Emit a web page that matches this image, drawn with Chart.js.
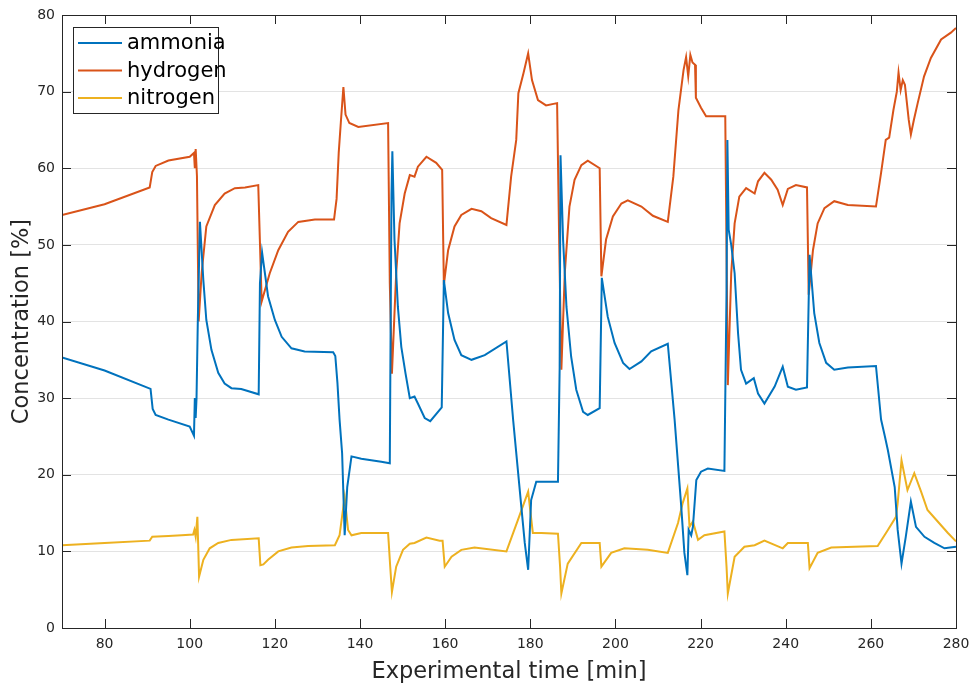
<!DOCTYPE html>
<html>
<head>
<meta charset="utf-8">
<script src="https://cdn.jsdelivr.net/npm/chart.js@4.4.1/dist/chart.umd.min.js"></script>
<style>
  html, body { margin: 0; padding: 0; background: #fff; }
  #wrap { width: 970px; height: 686px; }
</style>
</head>
<body>
<div id="wrap"><canvas id="conc"></canvas></div>
<script>
// tick labels
const xTicks = [80, 100, 120, 140, 160, 180, 200, 220, 240, 260, 280];
const yTicks = [0, 10, 20, 30, 40, 50, 60, 70, 80];

// ammonia [%]
const ammoniaTime = [70, 80, 90.8, 91.3, 92, 95, 100, 101, 101.2, 101.4, 101.6, 101.9, 102.4, 103.2, 103.9, 105.1, 106.7, 108.2, 109.8, 112.1, 116.2, 116.5, 117, 118.4, 120, 121.6, 123.9, 127, 133.7, 134.2, 134.7, 135.2, 135.8, 136.4, 137, 138, 140.3, 145, 147, 147.2, 147.4, 147.6, 148.1, 148.9, 149.7, 150.7, 151.7, 152.8, 153.6, 155.2, 156.5, 159.2, 159.7, 160.7, 162.2, 163.8, 166.2, 169.3, 174.4, 176, 177.9, 178.7, 179.5, 180.2, 181.4, 186.5, 186.9, 187.1, 187.7, 188.5, 189.6, 190.8, 192.4, 193.5, 196.3, 196.8, 198.2, 199.8, 201.8, 203.3, 206.1, 208.4, 212.3, 213.9, 215.4, 216.2, 216.9, 217.2, 217.8, 218.2, 219, 220.1, 221.7, 225.6, 226.1, 226.3, 226.6, 227.2, 228, 228.8, 229.5, 230.7, 232.5, 233.5, 235, 237.4, 239.3, 240.5, 242.4, 245, 245.6, 246.7, 247.9, 249.5, 251.4, 254.6, 261.2, 262.4, 263.3, 264, 265.6, 266.3, 267.2, 268.2, 269.4, 270.6, 272.6, 274.9, 277.3, 280];
const ammoniaValue = [35.3, 33.6, 31.2, 28.6, 27.8, 27.2, 26.3, 25.1, 30, 27.4, 30, 40, 53, 45.4, 40.2, 36.3, 33.3, 31.9, 31.3, 31.2, 30.5, 45, 49, 43.3, 40.2, 38, 36.5, 36.1, 36, 35.5, 32, 27.2, 22.8, 12.1, 18.4, 22.4, 22.1, 21.7, 21.5, 40, 56.5, 62.2, 50.7, 41.9, 36.7, 33.2, 30, 30.2, 29.3, 27.4, 27, 28.8, 45.4, 41.1, 37.6, 35.6, 35, 35.6, 37.4, 27, 15.8, 11.1, 7.6, 16.7, 19.1, 19.1, 34, 61.7, 50.7, 41.9, 35.4, 31.1, 28.2, 27.8, 28.7, 45.7, 40.6, 37.2, 34.6, 33.8, 34.8, 36.1, 37.1, 27.2, 16.3, 9.8, 6.9, 12.8, 12.1, 13.2, 19.3, 20.4, 20.8, 20.5, 44, 63.7, 52, 50, 46.3, 38.5, 33.7, 31.9, 32.6, 30.6, 29.3, 31.5, 34.1, 31.5, 31.1, 31.4, 48.7, 41.1, 37.2, 34.6, 33.7, 34, 34.2, 27.2, 25, 23.2, 18.4, 12.8, 8.4, 11.9, 16.5, 13.2, 11.9, 11.1, 10.4, 10.6];

// hydrogen [%]
const hydrogenTime = [70, 80, 90.6, 91.2, 92, 95, 100, 101, 101.2, 101.4, 101.7, 102.1, 102.8, 103.9, 105.9, 108.2, 110.6, 113, 116.1, 116.9, 118.8, 120.8, 123.1, 125.5, 129.4, 133.9, 134.5, 135, 135.5, 136.1, 136.6, 137.5, 139.6, 146.6, 147, 147.5, 148.5, 149.3, 150.5, 151.7, 152.8, 153.6, 155.6, 157.9, 159.3, 159.7, 160.7, 162.2, 163.8, 166.2, 168.5, 170.8, 174.4, 175.5, 176.7, 177.2, 178.4, 179.2, 179.5, 180.4, 181.8, 183.7, 186.3, 186.8, 187.3, 188.1, 189.2, 190.4, 192, 193.5, 196.3, 196.7, 197.8, 199.4, 201.4, 202.9, 206.1, 208.8, 212.3, 213.6, 214.8, 216, 216.6, 217.1, 217.6, 218.1, 218.7, 218.9, 220.1, 221.3, 225.8, 226.4, 227.2, 228, 229.1, 230.7, 232.7, 233.5, 235, 236.6, 238.1, 239.3, 240.5, 242.4, 245, 245.4, 246.4, 247.5, 249.1, 251.4, 254.6, 261.2, 262.4, 263.5, 264.3, 265.3, 266.1, 266.5, 267, 267.5, 268, 268.9, 269.4, 270.1, 271, 272.5, 274.1, 276.5, 278.8, 280];
const hydrogenValue = [53.9, 55.3, 57.5, 59.5, 60.3, 61, 61.5, 62, 60, 62.5, 59, 40, 46.3, 52.4, 55.2, 56.7, 57.4, 57.5, 57.8, 42.6, 46.3, 49.3, 51.7, 53, 53.3, 53.3, 56, 62, 66, 70.6, 67, 65.9, 65.4, 65.9, 45, 33.2, 46.3, 52.8, 56.7, 59.1, 58.9, 60.2, 61.5, 60.7, 59.8, 44.8, 49.3, 52.4, 53.9, 54.7, 54.4, 53.5, 52.6, 58.9, 63.7, 69.8, 72.4, 74.3, 75, 71.5, 68.9, 68.2, 68.5, 50, 33.7, 46.3, 55, 58.5, 60.4, 61, 60, 45.9, 50.7, 53.7, 55.4, 55.8, 55, 53.8, 53, 58.9, 67.6, 72.8, 74.5, 72, 74.8, 73.8, 73.5, 69.2, 67.9, 66.8, 66.8, 31.7, 46.3, 52.8, 56.3, 57.4, 56.7, 58.3, 59.4, 58.5, 57.2, 55.2, 57.3, 57.8, 57.5, 43.5, 49.3, 52.8, 54.8, 55.7, 55.2, 55, 59.4, 63.7, 64, 67.6, 70, 72.5, 70.2, 71.5, 70.9, 66.3, 64.4, 66.3, 68.5, 72, 74.4, 76.8, 77.7, 78.3];

// nitrogen [%]
const nitrogenTime = [70, 80, 90.6, 91.2, 95, 98.1, 100.8, 101.1, 101.4, 101.8, 102.2, 103.2, 104.7, 106.7, 109.8, 116.2, 116.6, 117.3, 118.4, 120.8, 123.9, 127.8, 134.1, 135.2, 136.4, 137.2, 138, 140.3, 146.6, 147.1, 147.5, 148.5, 150.1, 151.7, 152.8, 155.6, 158.7, 159.4, 159.9, 161.5, 163.8, 166.9, 174.4, 177.1, 179.5, 180.6, 182.6, 186.5, 187, 187.3, 188.8, 192, 196.3, 196.7, 199, 202.1, 207.6, 212.3, 214.7, 215.8, 216.9, 217.4, 218.2, 219.4, 220.9, 225.6, 226.1, 226.4, 228, 230.3, 232.7, 235, 239.3, 240.5, 245.2, 245.6, 247.5, 250.7, 261.6, 264, 265.9, 266.3, 267.2, 268.6, 270.2, 271.8, 273.3, 275.7, 278.1, 280];
const nitrogenValue = [10.8, 11.1, 11.4, 11.9, 12, 12.1, 12.2, 12.8, 11.9, 14.5, 6.7, 8.9, 10.4, 11.1, 11.5, 11.7, 8.2, 8.3, 8.9, 10, 10.5, 10.7, 10.8, 12.1, 17.1, 12.8, 12.1, 12.4, 12.4, 8, 4.7, 8, 10.2, 11, 11.1, 11.8, 11.4, 11.4, 8, 9.3, 10.2, 10.5, 10, 14.1, 17.8, 12.4, 12.4, 12.3, 8, 4.5, 8.4, 11.1, 11.1, 8, 9.8, 10.4, 10.2, 9.8, 13.7, 16.3, 18.2, 13.2, 13.9, 11.5, 12.1, 12.6, 8, 4.5, 9.3, 10.6, 10.8, 11.4, 10.4, 11.1, 11.1, 7.8, 9.8, 10.5, 10.7, 12.8, 14.5, 16.3, 21.9, 18, 20.2, 17.8, 15.4, 13.9, 12.4, 11.3];

const seriesNames = ['ammonia', 'hydrogen', 'nitrogen'];
const seriesColors = ['#0072BD', '#D95319', '#EDB120'];

const pts = (t, v) => t.map((x, i) => ({ x: x, y: v[i] }));

const axisColor = '#262626';
const fontFamily = '"DejaVu Sans", sans-serif';

// box, inward ticks and legend drawn in the MATLAB way
const matlabBox = {
  id: 'matlabBox',
  afterDatasetsDraw(chart) {
    const { ctx, chartArea: a, scales } = chart;
    ctx.save();
    ctx.strokeStyle = axisColor;
    ctx.lineWidth = 1;
    ctx.beginPath();
    xTicks.forEach(v => {
      const px = Math.round(scales.x.getPixelForValue(v)) + 0.5;
      ctx.moveTo(px, a.bottom); ctx.lineTo(px, a.bottom - 9);
      ctx.moveTo(px, a.top); ctx.lineTo(px, a.top + 9);
    });
    yTicks.forEach(v => {
      const py = Math.round(scales.y.getPixelForValue(v)) + 0.5;
      ctx.moveTo(a.left, py); ctx.lineTo(a.left + 9, py);
      ctx.moveTo(a.right, py); ctx.lineTo(a.right - 9, py);
    });
    ctx.stroke();
    ctx.strokeRect(Math.round(a.left) + 0.5, Math.round(a.top) + 0.5,
      Math.round(a.right - a.left), Math.round(a.bottom - a.top));

    // legend
    const lx = 73.5, ly = 27.5, lw = 145, lh = 86;
    ctx.fillStyle = '#fff';
    ctx.fillRect(lx, ly, lw, lh);
    ctx.strokeStyle = axisColor;
    ctx.strokeRect(lx, ly, lw, lh);
    ctx.font = '21px ' + fontFamily;
    ctx.textBaseline = 'middle';
    chart.data.datasets.forEach((ds, i) => {
      const y = 43 + i * 27.5;
      ctx.strokeStyle = ds.borderColor;
      ctx.lineWidth = 2;
      ctx.beginPath();
      ctx.moveTo(78, y); ctx.lineTo(122, y);
      ctx.stroke();
      ctx.fillStyle = '#000';
      ctx.fillText(ds.label, 127, y + 1);
    });
    ctx.restore();
  }
};

new Chart(document.getElementById('conc'), {
  type: 'line',
  data: {
    datasets: [
      { label: seriesNames[0], data: pts(ammoniaTime, ammoniaValue), borderColor: seriesColors[0] },
      { label: seriesNames[1], data: pts(hydrogenTime, hydrogenValue), borderColor: seriesColors[1] },
      { label: seriesNames[2], data: pts(nitrogenTime, nitrogenValue), borderColor: seriesColors[2] }
    ]
  },
  options: {
    responsive: true,
    maintainAspectRatio: false,
    animation: false,
    layout: { padding: { top: 15, right: 14, left: 0, bottom: 0 } },
    elements: {
      point: { radius: 0 },
      line: { borderWidth: 2, tension: 0, fill: false }
    },
    plugins: {
      legend: { display: false },
      tooltip: { enabled: false }
    },
    scales: {
      x: {
        type: 'linear',
        min: 70,
        max: 280,
        afterBuildTicks: s => { s.ticks = xTicks.map(v => ({ value: v })); },
        afterFit: s => { s.height = 58; s.paddingLeft = 0; s.paddingRight = 0; },
        grid: { display: false, drawTicks: false },
        border: { display: false },
        ticks: { color: axisColor, font: { family: fontFamily, size: 14 }, padding: 8, maxRotation: 0 },
        title: { display: true, text: 'Experimental time [min]', color: axisColor,
          font: { family: fontFamily, size: 22.5 }, padding: { top: 0, bottom: 0 } }
      },
      y: {
        min: 0,
        max: 80,
        afterBuildTicks: s => { s.ticks = yTicks.map(v => ({ value: v })); },
        afterFit: s => { s.width = 62; s.paddingTop = 0; s.paddingBottom = 0; },
        grid: { color: '#e3e3e3', drawTicks: false },
        border: { display: false },
        ticks: { color: axisColor, font: { family: fontFamily, size: 14 }, padding: 7 },
        title: { display: true, text: 'Concentration [%]', color: axisColor,
          font: { family: fontFamily, size: 22.5 }, padding: { top: 9, bottom: 0 } }
      }
    }
  },
  plugins: [matlabBox]
});
</script>
</body>
</html>
